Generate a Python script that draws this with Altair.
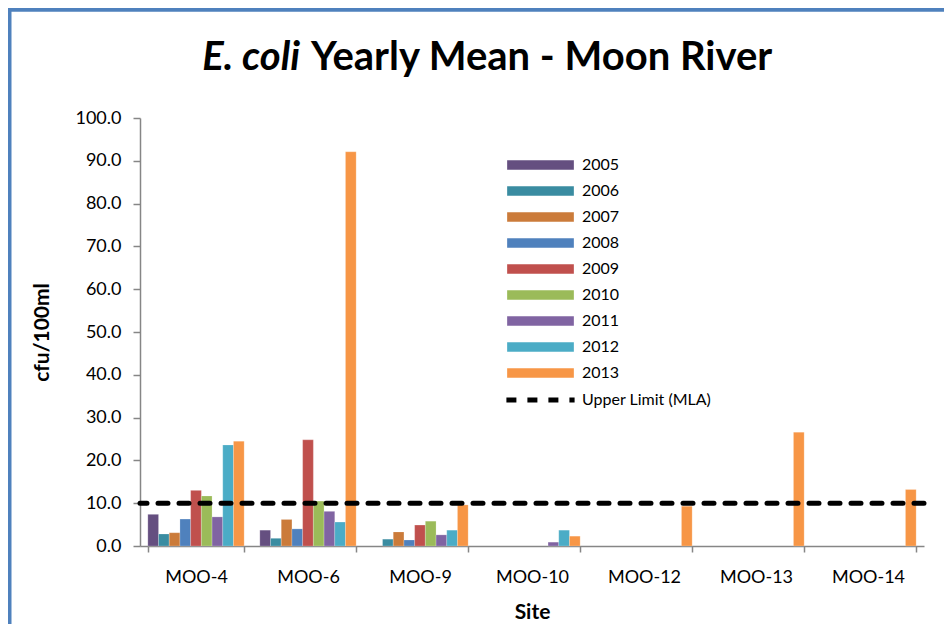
import altair as alt
import pandas as pd

sites = ["MOO-4", "MOO-6", "MOO-9", "MOO-10", "MOO-12", "MOO-13", "MOO-14"]
years = ["2005", "2006", "2007", "2008", "2009", "2010", "2011", "2012", "2013"]
colors = ["#654F80", "#3A8CA1", "#CB7B3A", "#4F81BD", "#C0504D",
          "#9BBB59", "#8064A2", "#4BACC6", "#F79646"]

v2005 = [7.4, 3.7, None, None, None, None, None]
v2006 = [2.8, 1.8, 1.6, None, None, None, None]
v2007 = [3.1, 6.2, 3.3, None, None, None, None]
v2008 = [6.3, 4.0, 1.4, None, None, None, None]
v2009 = [13.0, 24.8, 4.9, None, None, None, None]
v2010 = [11.7, 10.5, 5.8, None, None, None, None]
v2011 = [6.8, 8.1, 2.6, 0.9, None, None, None]
v2012 = [23.6, 5.6, 3.7, 3.7, None, None, None]
v2013 = [24.5, 92.1, 9.6, 2.3, 9.3, 26.6, 13.2]
series = [v2005, v2006, v2007, v2008, v2009, v2010, v2011, v2012, v2013]

limit_value = [10.0]
limit_label = ["Upper Limit (MLA)"]
y_ticks = [0, 10, 20, 30, 40, 50, 60, 70, 80, 90, 100]

rows = []
for yr, vals in zip(years, series):
    for s, v in zip(sites, vals):
        if v is not None:
            rows.append({"site": s, "year": yr, "value": v})
df = pd.DataFrame(rows)

FONT = "Lato"
AXIS_GRAY = "#868686"

bars = alt.Chart(df).mark_bar(stroke="#ffffff", strokeOpacity=0.35, strokeWidth=0.6).encode(
    x=alt.X("site:N", sort=sites,
            scale=alt.Scale(domain=sites, paddingInner=0.14, paddingOuter=0.07),
            axis=alt.Axis(title="Site", labelAngle=0, tickBand="extent",
                          tickSize=6, labelPadding=16, titlePadding=15)),
    xOffset=alt.XOffset("year:N", scale=alt.Scale(domain=years, paddingInner=0, paddingOuter=0)),
    y=alt.Y("value:Q", scale=alt.Scale(domain=[0, 100], nice=False),
            axis=alt.Axis(title="cfu/100ml", values=y_ticks, format=".1f",
                          tickSize=7, labelPadding=12, titlePadding=22)),
    color=alt.Color("year:N", scale=alt.Scale(domain=years, range=colors),
                    legend=alt.Legend(title=None, orient="none", legendX=392.5, legendY=39,
                                      symbolType="M-6.2,-1H6.2V1H-6.2Z", symbolSize=121,
                                      symbolOpacity=1, labelFontSize=16, rowPadding=8,
                                      padding=0, labelOffset=33.5)),
)

limit_df = pd.DataFrame({"y": limit_value, "label": limit_label})
rule = alt.Chart(limit_df).mark_rule(strokeWidth=5, strokeCap="round", color="black").encode(
    y=alt.Y("y:Q"),
    strokeDash=alt.StrokeDash("label:N", scale=alt.Scale(domain=limit_label, range=[[10, 11]]),
                              legend=alt.Legend(title=None, orient="none", legendX=392.5, legendY=274,
                                                symbolType="M-6.2,0H6.2", symbolSize=121,
                                                symbolStrokeWidth=5,
                                                symbolStrokeColor="black", symbolDash=[15, 5],
                                                labelFontSize=16, padding=0, labelOffset=33.5)),
)

title_a = alt.Chart(pd.DataFrame({"t": ["E. coli"]})).mark_text(
    font=FONT, fontSize=40, fontWeight="bold", fontStyle="italic", align="right",
    baseline="alphabetic", color="black"
).encode(text="t:N", x=alt.value(160), y=alt.value(-48))

title_b = alt.Chart(pd.DataFrame({"t": ["Yearly Mean - Moon River"]})).mark_text(
    font=FONT, fontSize=40, fontWeight="bold", align="left", dx=11,
    baseline="alphabetic", color="black"
).encode(text="t:N", x=alt.value(160), y=alt.value(-48))

frame = alt.Chart(pd.DataFrame({"k": [0]})).mark_rect(
    fillOpacity=0, stroke="#4F81BD", strokeWidth=4
).encode(x=alt.value(-130.5), y=alt.value(-108.3), x2=alt.value(900), y2=alt.value(600))

chart = alt.layer(frame, bars, rule, title_a, title_b).resolve_scale(
    color="independent"
).properties(
    width=784, height=428,
    padding={"left": 132, "top": 110, "right": 20, "bottom": 78},
    autosize=alt.AutoSizeParams(type="none"),
).configure_view(stroke=None).configure_axis(
    labelFont=FONT, titleFont=FONT, labelFontSize=18, labelColor="black",
    titleFontSize=21, titleFontWeight="bold", titleColor="black",
    domainColor=AXIS_GRAY, domainWidth=1.5, tickColor=AXIS_GRAY, tickWidth=1.5,
    grid=False,
).configure_legend(labelFont=FONT, labelColor="black")

chart.save("out.html", embed_options={"renderer": "svg", "actions": False})
